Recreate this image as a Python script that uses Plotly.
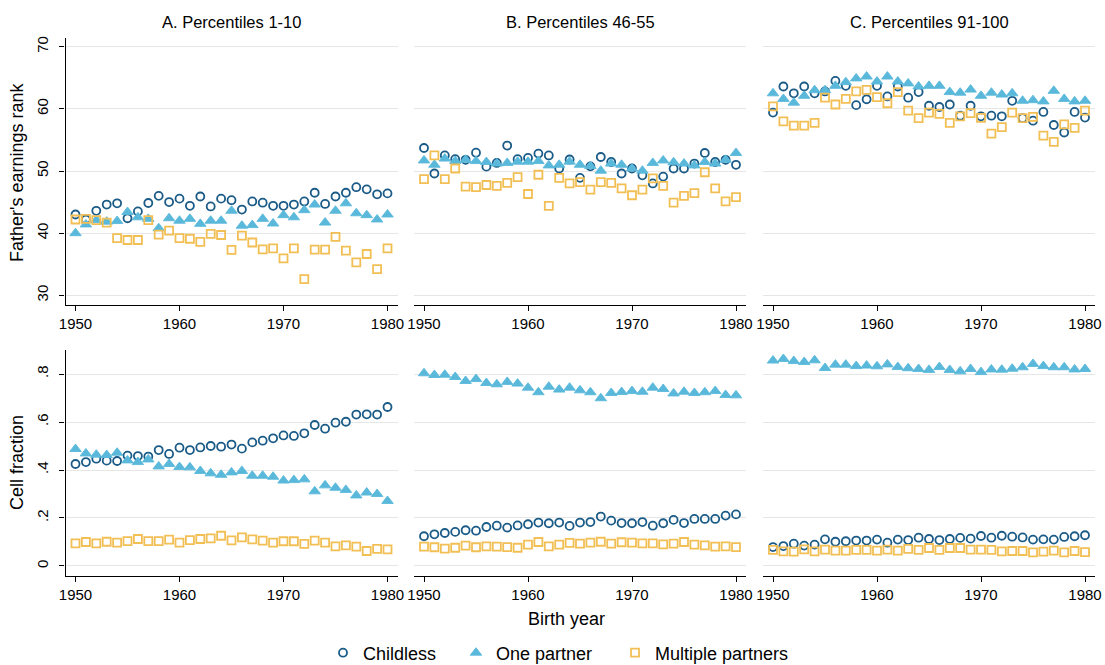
import plotly.graph_objects as go

# Birth cohorts on the horizontal axis
years = list(range(1950, 1981))

panel_titles = ["A. Percentiles 1-10", "B. Percentiles 46-55", "C. Percentiles 91-100"]
series_names = ["Childless", "One partner", "Multiple partners"]

# Father's earnings rank, by own earnings percentile group
rank_childless_p1 = [43.0, 42.2, 43.6, 44.6, 44.8, 42.4, 43.5, 44.85, 46.0, 45.0, 45.55,
                     44.4, 45.9, 44.3, 45.55, 45.3, 43.8, 45.1, 44.9, 44.4, 44.4,
                     44.6, 45.1, 46.5, 44.7, 45.9, 46.5, 47.4, 47.05, 46.25, 46.4]
rank_onepartner_p1 = [40.0, 41.4, 42.1, 41.85, 41.95, 43.4, 42.55, 42.3, 40.8, 42.4, 42.0,
                      42.3, 41.5, 42.0, 42.0, 43.6, 41.2, 41.3, 42.3, 41.55, 42.9,
                      42.55, 43.7, 44.6, 41.7, 43.6, 44.8, 43.2, 42.9, 42.2, 43.0]
rank_multiple_p1 = [42.2, 42.3, 42.1, 41.7, 39.2, 38.9, 38.9, 42.1, 39.75, 40.4, 39.2,
                    39.1, 38.6, 39.9, 39.7, 37.3, 39.6, 38.5, 37.4, 37.55, 35.95,
                    37.55, 32.6, 37.35, 37.35, 39.4, 37.2, 35.3, 36.65, 34.2, 37.55]

rank_childless_p46 = [53.7, 49.6, 52.5, 51.9, 51.8, 52.95, 50.7, 51.3, 54.1, 51.9, 52.1,
                      52.8, 52.5, 50.4, 51.85, 48.9, 50.75, 52.25, 51.45, 49.6, 50.4,
                      49.3, 48.0, 49.1, 50.4, 50.4, 51.2, 52.9, 51.45, 51.8, 51.0]
rank_onepartner_p46 = [51.7, 51.0, 52.0, 51.6, 51.8, 51.6, 51.45, 51.2, 51.3, 51.5, 51.5,
                       51.6, 50.9, 51.0, 51.5, 51.0, 50.8, 50.05, 51.2, 51.0, 50.4,
                       50.05, 51.3, 51.7, 51.4, 51.2, 50.9, 51.45, 51.2, 51.8, 52.9]
rank_multiple_p46 = [48.7, 52.5, 48.7, 50.4, 47.5, 47.4, 47.75, 47.6, 48.1, 49.0, 46.3,
                     49.4, 44.4, 48.9, 48.0, 48.2, 47.0, 48.2, 48.1, 47.2, 46.1,
                     47.0, 48.8, 47.6, 44.9, 46.0, 46.45, 49.8, 47.2, 45.1, 45.8]

rank_childless_p91 = [59.4, 63.6, 62.5, 63.6, 62.5, 62.8, 64.5, 63.7, 60.6, 61.55, 63.7,
                      62.0, 63.6, 61.8, 62.7, 60.5, 60.3, 60.7, 58.9, 60.5, 58.8,
                      58.9, 58.8, 61.3, 58.5, 58.1, 59.5, 57.4, 56.2, 59.5, 58.6]
rank_onepartner_p91 = [62.5, 61.6, 61.0, 62.1, 63.0, 63.0, 63.7, 64.3, 64.9, 65.2, 64.4,
                       65.2, 64.4, 64.1, 63.6, 63.7, 63.7, 62.7, 62.6, 63.1, 62.1,
                       62.6, 62.3, 62.5, 61.3, 61.4, 61.2, 62.9, 61.6, 61.2, 61.3]
rank_multiple_p91 = [60.4, 58.0, 57.3, 57.3, 57.75, 61.8, 60.7, 61.6, 62.8, 63.05, 61.9,
                     60.9, 62.7, 59.7, 58.5, 59.4, 59.2, 57.75, 58.8, 59.3, 58.55,
                     56.0, 57.05, 59.4, 58.5, 58.7, 55.7, 54.7, 57.5, 56.95, 59.7]

# Share of each group within the percentile cell
frac_childless_p1 = [0.425, 0.433, 0.447, 0.439, 0.4375, 0.46, 0.458, 0.456, 0.483, 0.467, 0.493,
                     0.483, 0.494, 0.5, 0.497, 0.506, 0.489, 0.515, 0.522, 0.532, 0.544,
                     0.542, 0.553, 0.5875, 0.572, 0.597, 0.601, 0.631, 0.632, 0.631, 0.6625]
frac_onepartner_p1 = [0.4875, 0.469, 0.464, 0.4625, 0.472, 0.44, 0.433, 0.444, 0.415, 0.425, 0.4125,
                      0.411, 0.396, 0.386, 0.38, 0.39, 0.396, 0.376, 0.376, 0.372, 0.356,
                      0.358, 0.361, 0.311, 0.336, 0.326, 0.317, 0.294, 0.306, 0.3, 0.271]
frac_multiple_p1 = [0.094, 0.1, 0.094, 0.101, 0.097, 0.104, 0.1125, 0.104, 0.104, 0.11, 0.097,
                    0.108, 0.1125, 0.115, 0.126, 0.107, 0.119, 0.111, 0.106, 0.097, 0.103,
                    0.103, 0.092, 0.106, 0.097, 0.082, 0.086, 0.081, 0.0625, 0.071, 0.069]

frac_childless_p46 = [0.124, 0.132, 0.1375, 0.142, 0.149, 0.147, 0.1625, 0.168, 0.16, 0.169, 0.174,
                      0.181, 0.178, 0.181, 0.167, 0.181, 0.183, 0.206, 0.189, 0.179, 0.178,
                      0.183, 0.168, 0.178, 0.192, 0.179, 0.196, 0.196, 0.196, 0.21, 0.215]
frac_onepartner_p46 = [0.803, 0.796, 0.797, 0.7875, 0.771, 0.779, 0.7625, 0.757, 0.767, 0.76, 0.743,
                       0.724, 0.747, 0.735, 0.743, 0.732, 0.724, 0.699, 0.721, 0.725, 0.729,
                       0.726, 0.743, 0.7375, 0.719, 0.726, 0.721, 0.724, 0.729, 0.7125, 0.711]
frac_multiple_p46 = [0.081, 0.078, 0.072, 0.076, 0.085, 0.078, 0.082, 0.081, 0.079, 0.076, 0.089,
                     0.1, 0.082, 0.089, 0.096, 0.093, 0.097, 0.101, 0.093, 0.099, 0.097,
                     0.094, 0.094, 0.09, 0.093, 0.1, 0.089, 0.086, 0.081, 0.082, 0.079]

frac_childless_p91 = [0.079, 0.083, 0.093, 0.085, 0.089, 0.111, 0.101, 0.103, 0.106, 0.106, 0.11,
                      0.097, 0.11, 0.108, 0.118, 0.1125, 0.108, 0.1125, 0.117, 0.114, 0.125,
                      0.118, 0.126, 0.122, 0.119, 0.11, 0.111, 0.11, 0.121, 0.124, 0.128]
frac_onepartner_p91 = [0.856, 0.8625, 0.854, 0.85, 0.857, 0.825, 0.839, 0.839, 0.833, 0.835, 0.832,
                       0.84, 0.829, 0.824, 0.821, 0.817, 0.829, 0.817, 0.811, 0.821, 0.808,
                       0.819, 0.818, 0.822, 0.828, 0.842, 0.833, 0.828, 0.828, 0.819, 0.821]
frac_multiple_p91 = [0.067, 0.061, 0.06, 0.069, 0.061, 0.068, 0.064, 0.064, 0.067, 0.067, 0.064,
                     0.068, 0.064, 0.071, 0.067, 0.075, 0.067, 0.075, 0.075, 0.068, 0.068,
                     0.067, 0.061, 0.0625, 0.0625, 0.057, 0.06, 0.064, 0.057, 0.0625, 0.058]

x_ticks = [1950, 1960, 1970, 1980]
rank_ticks = [30, 40, 50, 60, 70]
frac_ticks = [0, 0.2, 0.4, 0.6, 0.8]
frac_tick_labels = ["0", ".2", ".4", ".6", ".8"]

top_row = [
    [rank_childless_p1, rank_onepartner_p1, rank_multiple_p1],
    [rank_childless_p46, rank_onepartner_p46, rank_multiple_p46],
    [rank_childless_p91, rank_onepartner_p91, rank_multiple_p91],
]
bottom_row = [
    [frac_childless_p1, frac_onepartner_p1, frac_multiple_p1],
    [frac_childless_p46, frac_onepartner_p46, frac_multiple_p46],
    [frac_childless_p91, frac_onepartner_p91, frac_multiple_p91],
]

W, H = 1105, 665
FONT = "Liberation Sans, Arial, sans-serif"
NAVY = "#1b5b87"
SKY = "#5ab9da"
AMBER = "#f2bf55"
GRID = "#e6e6e6"

marker_styles = [
    dict(symbol="circle-open", size=8, color=NAVY, line=dict(width=1.8, color=NAVY)),
    dict(symbol="triangle-up", size=10, color=SKY, line=dict(width=0.9, color=SKY)),
    dict(symbol="square-open", size=8, color=AMBER, line=dict(width=1.8, color=AMBER)),
]

# panel geometry in pixels
col_left = [65.5, 414.0, 763.0]
panel_w = 332.0
row_top = [37.7, 350.0]
row_bottom = [305.0, 576.0]

fig = go.Figure()

for r, rows in enumerate([top_row, bottom_row]):
    for c in range(3):
        idx = r * 3 + c + 1
        xname = "x" if idx == 1 else f"x{idx}"
        yname = "y" if idx == 1 else f"y{idx}"
        for s, values in enumerate(rows[c]):
            show = (idx == 1)
            fig.add_trace(go.Scatter(
                x=years, y=values, mode="markers", name=series_names[s],
                marker=marker_styles[s], xaxis=xname, yaxis=yname,
                showlegend=show, legend=["legend", "legend2", "legend3"][s],
                hoverinfo="skip",
            ))

        # x range chosen so the ticks sit ~10 px in from the frame edges
        px_per_year = (panel_w - 20.0) / 30.0
        pad_years = 10.0 / px_per_year
        xaxis = dict(
            domain=[col_left[c] / W, (col_left[c] + panel_w) / W],
            range=[1950 - pad_years, 1980 + pad_years],
            tickvals=x_ticks, ticks="outside", ticklen=5, tickwidth=1,
            tickcolor="black", showline=True, linecolor="black", linewidth=1.2,
            showgrid=False, zeroline=False, anchor=yname,
            tickfont=dict(family=FONT, size=15, color="black"),
        )
        if r == 0:
            yrange = [28.44, 71.45]
            tv, tt = rank_ticks, [str(t) for t in rank_ticks]
        else:
            yrange = [-0.0417, 0.9]
            tv, tt = frac_ticks, frac_tick_labels
        first = (c == 0)
        yaxis = dict(
            domain=[(H - row_bottom[r]) / H, (H - row_top[r]) / H],
            range=yrange, tickvals=tv, ticktext=tt, tickangle=-90,
            ticks="outside" if first else "", ticklen=5, tickwidth=1, tickcolor="black",
            ticklabelstandoff=5,
            showline=first, linecolor="black", linewidth=1.2,
            showticklabels=first, showgrid=True, gridcolor=GRID, gridwidth=1.4,
            zeroline=False, anchor=xname,
            tickfont=dict(family=FONT, size=15, color="black"),
        )
        fig.layout["xaxis" if idx == 1 else f"xaxis{idx}"] = xaxis
        fig.layout["yaxis" if idx == 1 else f"yaxis{idx}"] = yaxis

annotations = []
for c, title in enumerate(panel_titles):
    annotations.append(dict(
        text=title, x=(col_left[c] + panel_w / 2) / W, y=(H - 22) / H,
        xref="paper", yref="paper", xanchor="center", yanchor="middle",
        showarrow=False, font=dict(family=FONT, size=16.5, color="black"),
    ))
annotations.append(dict(
    text="Father's earnings rank", x=17 / W, y=(H - 172) / H, textangle=-90,
    xref="paper", yref="paper", xanchor="center", yanchor="middle",
    showarrow=False, font=dict(family=FONT, size=18, color="black"),
))
annotations.append(dict(
    text="Cell fraction", x=17 / W, y=(H - 463) / H, textangle=-90,
    xref="paper", yref="paper", xanchor="center", yanchor="middle",
    showarrow=False, font=dict(family=FONT, size=18, color="black"),
))
annotations.append(dict(
    text="Birth year", x=566 / W, y=(H - 619) / H,
    xref="paper", yref="paper", xanchor="center", yanchor="middle",
    showarrow=False, font=dict(family=FONT, size=18, color="black"),
))

legend_common = dict(
    orientation="h", yanchor="middle", y=(H - 653) / H, xanchor="left",
    bgcolor="rgba(0,0,0,0)", borderwidth=0,
    font=dict(family=FONT, size=18, color="black"),
)
fig.update_layout(
    width=W, height=H, margin=dict(l=0, r=0, t=0, b=0, autoexpand=False),
    paper_bgcolor="white", plot_bgcolor="white",
    annotations=annotations,
    legend=dict(legend_common, x=323 / W),
    legend2=dict(legend_common, x=456 / W),
    legend3=dict(legend_common, x=615 / W),
)

fig.write_html("out.html")
